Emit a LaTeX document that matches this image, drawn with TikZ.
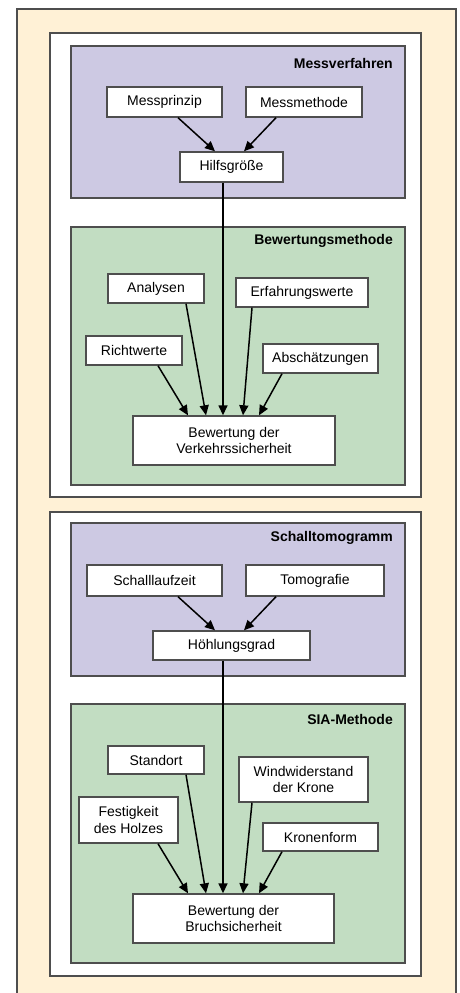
\documentclass[tikz,border=0pt]{standalone}
\usepackage{fontspec}
\setmainfont{Liberation Sans}
\usetikzlibrary{arrows.meta}
\definecolor{beige}{HTML}{FFF1D6}
\definecolor{lilac}{HTML}{CDC9E3}
\definecolor{sage}{HTML}{C2DDC2}
\definecolor{edgegray}{HTML}{4E4E4E}
\begin{document}
\begin{tikzpicture}[x=1pt,y=-1pt,
  box/.style={draw=edgegray, line width=1.4pt, fill=white, inner sep=0pt, align=center,
              font=\fontsize{14}{16.5}\selectfont},
  panel/.style={draw=edgegray, line width=1.4pt, fill=white},
  topsec/.style={draw=edgegray, line width=1.4pt, fill=lilac},
  botsec/.style={draw=edgegray, line width=1.4pt, fill=sage},
  sectitle/.style={anchor=east, inner sep=0pt, font=\fontsize{14}{16}\selectfont\bfseries},
  arr/.style={-{Triangle[length=10pt,width=9pt]}, line width=1.5pt, black},
  conn/.style={line width=1.5pt, black}
]
\useasboundingbox (0,0) rectangle (459,993);
\fill[white] (0,0) rectangle (459,993);
\draw[fill=beige, draw=edgegray, line width=1.2pt] (17,9) rectangle (456,1010);

% ---------- panel 1 ----------
\draw[panel] (50,33) rectangle (421,497);
\draw[topsec] (71,46) rectangle (405,198);
\draw[botsec] (71,227) rectangle (405,485);
\node[sectitle] (t1) at (393,63) {Messverfahren};
\node[sectitle] (t2) at (393,241) {Bewertungsmethode};

\node[box, minimum width=115pt, minimum height=30pt] (messp) at (164.5,102) {Messprinzip};
\node[box, minimum width=116pt, minimum height=30pt] (messm) at (304,102) {Messmethode};
\node[box, minimum width=103pt, minimum height=30pt] (hilfs) at (231.5,167) {Hilfsgröße};
\node[box, minimum width=96pt, minimum height=29pt] (analy) at (156,288.5) {Analysen};
\node[box, minimum width=132pt, minimum height=29pt] (erfah) at (302,292.5) {Erfahrungswerte};
\node[box, minimum width=96pt, minimum height=29pt] (richt) at (134,350.5) {Richtwerte};
\node[box, minimum width=115pt, minimum height=29pt] (absch) at (320.5,358.5) {Abschätzungen};
\node[box, minimum width=202pt, minimum height=49pt] (bewv) at (234,440.5) {Bewertung der\\Verkehrssicherheit};

\draw[arr] ([xshift=13.5pt]messp.south) -- ([xshift=-16.5pt]hilfs.north);
\draw[arr] ([xshift=-28pt]messm.south) -- ([xshift=12.5pt]hilfs.north);
\draw[arr] ([xshift=-8.5pt]hilfs.south) -- ([xshift=-11pt]bewv.north);
\draw[arr] ([xshift=24pt]richt.south) -- ([xshift=-46pt]bewv.north);
\draw[arr] ([xshift=30pt]analy.south) -- ([xshift=-28pt]bewv.north);
\draw[arr] ([xshift=-50pt]erfah.south) -- ([xshift=9pt]bewv.north);
\draw[arr] ([xshift=-38.5pt]absch.south) -- ([xshift=25pt]bewv.north);

% ---------- panel 2 ----------
\draw[panel] (50,512) rectangle (421,976);
\draw[topsec] (71,523) rectangle (405,676);
\draw[botsec] (71,704) rectangle (405,963);
\node[sectitle] (t3) at (393,538) {Schalltomogramm};
\node[sectitle] (t4) at (393,719) {SIA-Methode};

\node[box, minimum width=135pt, minimum height=31pt] (schal) at (154.5,580.5) {Schalllaufzeit};
\node[box, minimum width=138pt, minimum height=31pt] (tomo) at (315,580.5) {Tomografie};
\node[box, minimum width=157pt, minimum height=29pt] (hoehl) at (231.5,645.5) {Höhlungsgrad};
\node[box, minimum width=96pt, minimum height=28pt] (stand) at (156,760) {Standort};
\node[box, minimum width=129pt, minimum height=45pt] (wind) at (303.5,779.5) {Windwiderstand\\der Krone};
\node[box, minimum width=99pt, minimum height=46pt] (festi) at (128.5,820) {Festigkeit\\des Holzes};
\node[box, minimum width=115pt, minimum height=28pt] (krone) at (320.5,837) {Kronenform};
\node[box, minimum width=201pt, minimum height=49pt] (bewb) at (233.5,918.5) {Bewertung der\\Bruchsicherheit};

\draw[arr] ([xshift=23.5pt]schal.south) -- ([xshift=-16.5pt]hoehl.north);
\draw[arr] ([xshift=-39pt]tomo.south) -- ([xshift=12.5pt]hoehl.north);
\draw[arr] ([xshift=-8.5pt]hoehl.south) -- ([xshift=-10.5pt]bewb.north);
\draw[arr] ([xshift=29.5pt]festi.south) -- ([xshift=-45.5pt]bewb.north);
\draw[arr] ([xshift=30pt]stand.south) -- ([xshift=-27.5pt]bewb.north);
\draw[arr] ([xshift=-51.5pt]wind.south) -- ([xshift=9.5pt]bewb.north);
\draw[arr] ([xshift=-38.5pt]krone.south) -- ([xshift=25.5pt]bewb.north);
\end{tikzpicture}
\end{document}
